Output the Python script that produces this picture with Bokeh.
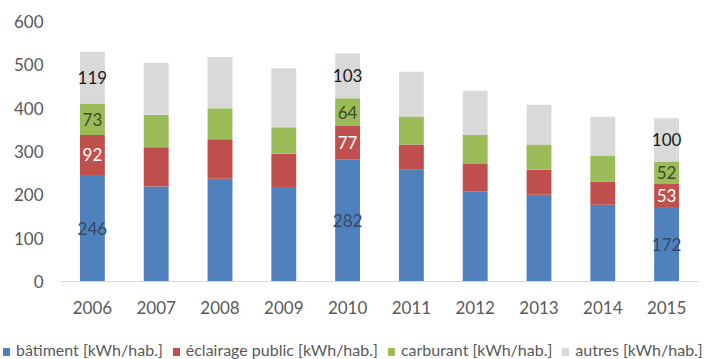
from bokeh.plotting import figure
from bokeh.layouts import column
from bokeh.models import ColumnDataSource, Range1d, SingleIntervalTicker, Div
from bokeh.core.properties import value
from bokeh.embed import file_html
from bokeh.resources import INLINE

years = ["2006", "2007", "2008", "2009", "2010", "2011", "2012", "2013", "2014", "2015"]
batiment = [246, 219, 237, 218, 282, 258, 208, 200, 177, 172]
eclairage = [92, 91, 91, 77, 77, 58, 63, 58, 54, 53]
carburant = [73, 75, 72, 61, 64, 65, 67, 58, 60, 52]
autres = [119, 120, 118, 136, 103, 103, 102, 92, 89, 100]
series_names = ["bâtiment [kWh/hab.]", "éclairage public [kWh/hab.]",
                "carburant [kWh/hab.]", "autres [kWh/hab.]"]
labeled_years = ["2006", "2010", "2015"]

colors = ["#4f81bd", "#c0504d", "#9bbb59", "#d9d9d9"]
label_colors = ["#34496a", "#ffffff", "#3f4a2c", "#1a1a1a"]
FONT = "Lato"

keys = ["b", "e", "c", "a"]
src = ColumnDataSource(dict(year=years, b=batiment, e=eclairage, c=carburant, a=autres))

p = figure(x_range=years, y_range=Range1d(0, 600), width=719, height=322,
           output_backend="svg", toolbar_location=None,
           min_border_left=60, min_border_right=21, min_border_top=21, min_border_bottom=41)
p.outline_line_color = None
p.xgrid.visible = False
p.ygrid.visible = False
p.x_range.range_padding = 0

renderers = p.vbar_stack(keys, x="year", width=0.39, source=src, color=colors, line_color=None)

# data labels
series = [batiment, eclairage, carburant, autres]
lx, ly, lt, lc = [], [], [], []
for i, y in enumerate(years):
    if y not in labeled_years:
        continue
    base = 0
    for s, col in zip(series, label_colors):
        lx.append(y)
        ly.append(base + s[i] / 2)
        lt.append(str(s[i]))
        lc.append(col)
        base += s[i]
lsrc = ColumnDataSource(dict(x=lx, y=ly, t=lt, c=lc))
p.text(x="x", y="y", text="t", text_color="c", source=lsrc, text_align="center",
       text_baseline="middle", text_font=value(FONT), text_font_size="17px")

# axes
p.yaxis.ticker = SingleIntervalTicker(interval=100)
p.yaxis.axis_line_color = None
p.yaxis.major_tick_line_color = None
p.yaxis.minor_tick_line_color = None
p.yaxis.major_label_text_font = FONT
p.yaxis.major_label_text_font_size = "17px"
p.yaxis.major_label_text_color = "#595959"
p.yaxis.major_label_standoff = 11

p.xaxis.axis_line_color = "#d9d9d9"
p.xaxis.axis_line_width = 1
p.xaxis.major_tick_line_color = None
p.xaxis.minor_tick_line_color = None
p.xaxis.major_label_text_font = FONT
p.xaxis.major_label_text_font_size = "17px"
p.xaxis.major_label_text_color = "#595959"
p.xaxis.major_label_standoff = 13

# legend strip below the chart
items_html = "".join(
    f'<span style="display:inline-block;width:7px;height:8px;background:{c};'
    f'margin-right:6px;{"margin-left:10px;" if k else ""}"></span>{n}'
    for k, (n, c) in enumerate(zip(series_names, colors))
)
legend_div = Div(
    text=(f'<div style="font-family:Lato;font-size:16px;color:#595959;white-space:nowrap;'
          f'padding-left:3px;padding-top:19px;line-height:18px;">{items_html}</div>'),
    width=719, height=37, margin=(0, 0, 0, 0))

open("out.html", "w").write(file_html(column(p, legend_div, spacing=0), INLINE))
